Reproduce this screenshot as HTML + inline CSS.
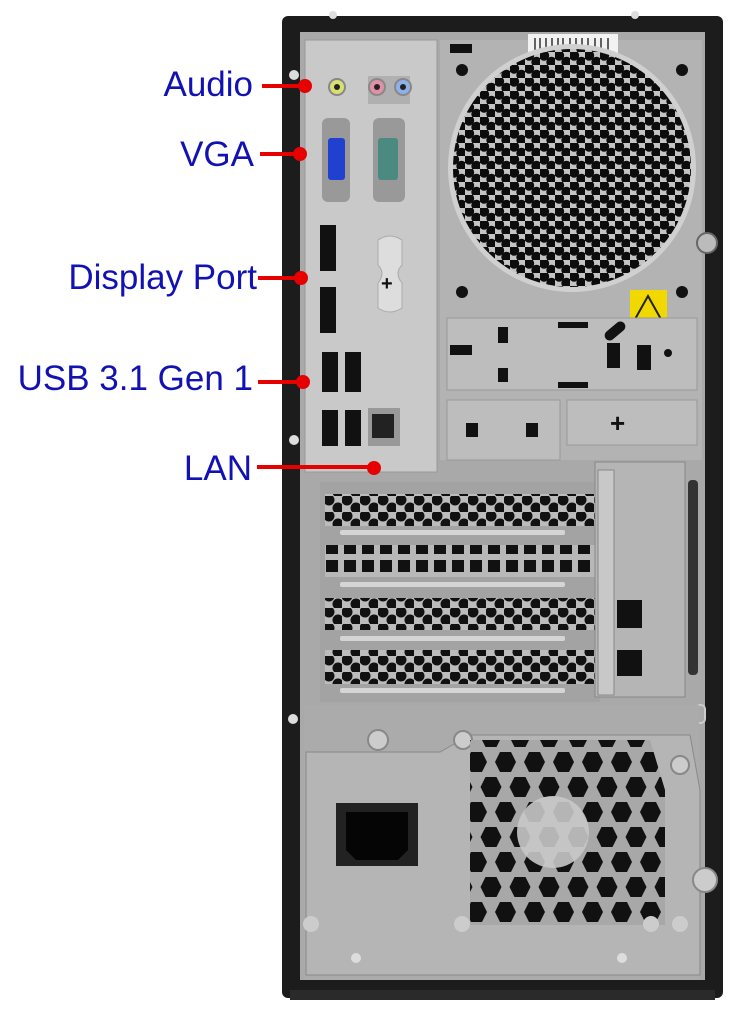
<!DOCTYPE html>
<html><head><meta charset="utf-8"><style>
html,body{margin:0;padding:0;background:#fff;width:743px;height:1024px;overflow:hidden}
svg{display:block}
text{font-family:"Liberation Sans",sans-serif}
</style></head><body>
<svg width="743" height="1024" viewBox="0 0 743 1024" xmlns="http://www.w3.org/2000/svg">
<defs>
<pattern id="hex" width="15" height="13" patternUnits="userSpaceOnUse">
<rect width="15" height="13" fill="#c4c4c4"/>
<circle cx="4" cy="3.5" r="5.2" fill="#0c0c0c"/>
<circle cx="11.5" cy="10" r="5.2" fill="#0c0c0c"/>
</pattern>
<pattern id="hex2" width="18" height="16" patternUnits="userSpaceOnUse">
<rect width="18" height="16" fill="#bcbcbc"/>
<circle cx="5" cy="4" r="5.5" fill="#111"/>
<circle cx="14" cy="12" r="5.5" fill="#111"/>
</pattern>
<pattern id="sq" width="18" height="18" patternUnits="userSpaceOnUse">
<rect width="18" height="18" fill="#b8b8b8"/>
<rect x="2" y="2" width="12" height="12" fill="#111"/>
</pattern>
<pattern id="psuhex" width="29" height="50" patternUnits="userSpaceOnUse">
<rect width="29" height="50" fill="#a8a8a8"/>
<polygon points="7,2 18,2 23,12 18,22 7,22 2,12" fill="#111"/>
<polygon points="21.5,27 32.5,27 37.5,37 32.5,47 21.5,47 16.5,37" fill="#111"/>
<polygon points="-7.5,27 3.5,27 8.5,37 3.5,47 -7.5,47 -12.5,37" fill="#111"/>
</pattern>
</defs>
<rect x="282" y="16" width="441" height="982" rx="6" fill="#1c1c1c"/>
<rect x="300" y="32" width="405" height="948" fill="#a9a9a9"/>
<rect x="290" y="990" width="425" height="10" fill="#2a2a2a"/>
<rect x="440" y="40" width="262" height="420" fill="#b3b3b3"/>
<rect x="528" y="34" width="90" height="26" fill="#f2f2f2"/>
<g stroke="#333" stroke-width="1.5">
<line x1="535" y1="38" x2="535" y2="55"/><line x1="540" y1="38" x2="540" y2="55"/><line x1="546" y1="38" x2="546" y2="55"/><line x1="552" y1="38" x2="552" y2="55"/><line x1="558" y1="38" x2="558" y2="55"/><line x1="563" y1="38" x2="563" y2="55"/><line x1="570" y1="38" x2="570" y2="55"/><line x1="576" y1="38" x2="576" y2="55"/><line x1="582" y1="38" x2="582" y2="55"/><line x1="588" y1="38" x2="588" y2="55"/><line x1="595" y1="38" x2="595" y2="55"/><line x1="601" y1="38" x2="601" y2="55"/><line x1="608" y1="38" x2="608" y2="55"/>
</g>
<rect x="450" y="44" width="22" height="9" fill="#111"/>
<circle cx="572" cy="168" r="124" fill="#d0d0d0"/>
<circle cx="572" cy="168" r="119" fill="url(#hex)"/>
<circle cx="462" cy="70" r="6" fill="#111"/><circle cx="682" cy="70" r="6" fill="#111"/>
<circle cx="462" cy="292" r="6" fill="#111"/><circle cx="682" cy="292" r="6" fill="#111"/>
<circle cx="707" cy="243" r="10" fill="#bbb" stroke="#666" stroke-width="2"/>
<rect x="630" y="290" width="37" height="36" fill="#f0d800"/>
<polygon points="648,296 662,321 634,321" fill="none" stroke="#222" stroke-width="2"/>
<rect x="447" y="318" width="250" height="72" fill="#bdbdbd" stroke="#999"/>
<rect x="450" y="345" width="22" height="10" fill="#111"/>
<rect x="498" y="327" width="10" height="16" fill="#111"/><rect x="498" y="368" width="10" height="14" fill="#111"/>
<rect x="558" y="322" width="30" height="6" fill="#111"/><rect x="558" y="382" width="30" height="6" fill="#111"/>
<rect x="603" y="326" width="24" height="10" rx="5" fill="#111" transform="rotate(-40 615 331)"/>
<rect x="607" y="343" width="13" height="25" fill="#111"/><rect x="637" y="345" width="14" height="25" fill="#111"/>
<circle cx="668" cy="353" r="4" fill="#111"/>
<rect x="447" y="400" width="113" height="60" fill="#bdbdbd" stroke="#999"/>
<rect x="466" y="423" width="12" height="14" fill="#111"/><rect x="526" y="423" width="12" height="14" fill="#111"/>
<rect x="567" y="400" width="130" height="45" fill="#bdbdbd" stroke="#999"/>
<text x="610" y="432" font-size="26" font-weight="bold" fill="#111">+</text>
<rect x="305" y="40" width="132" height="432" fill="#c9c9c9" stroke="#999"/>
<circle cx="294" cy="75" r="5" fill="#ddd"/><circle cx="294" cy="440" r="5" fill="#ddd"/>
<circle cx="333" cy="15" r="4" fill="#ddd"/><circle cx="635" cy="15" r="4" fill="#ddd"/>
<circle cx="337" cy="87" r="8" fill="#d8e070" stroke="#888" stroke-width="2"/><circle cx="337" cy="87" r="3" fill="#222"/>
<rect x="368" y="76" width="42" height="28" fill="#b0b0b0"/>
<circle cx="377" cy="87" r="8" fill="#e090a8" stroke="#888" stroke-width="2"/><circle cx="377" cy="87" r="3" fill="#222"/>
<circle cx="403" cy="87" r="8" fill="#8fb0e8" stroke="#888" stroke-width="2"/><circle cx="403" cy="87" r="3" fill="#222"/>
<rect x="322" y="118" width="28" height="84" rx="6" fill="#999"/>
<rect x="328" y="138" width="17" height="42" rx="3" fill="#2040d0"/>
<rect x="373" y="118" width="32" height="84" rx="6" fill="#999"/>
<rect x="378" y="138" width="20" height="42" rx="3" fill="#4a8a80"/>
<rect x="320" y="225" width="16" height="46" fill="#111"/>
<rect x="320" y="287" width="16" height="46" fill="#111"/>
<path d="M378,240 q12,-8 24,0 v25 q-8,8 0,18 v25 q-12,8 -24,0 v-25 q8,-10 0,-18z" fill="#ddd" stroke="#aaa"/>
<text x="381" y="290" font-size="20" font-weight="bold" fill="#111">+</text>
<rect x="322" y="352" width="16" height="40" fill="#111"/><rect x="345" y="352" width="16" height="40" fill="#111"/>
<rect x="322" y="410" width="16" height="36" fill="#111"/><rect x="345" y="410" width="16" height="36" fill="#111"/>
<rect x="368" y="408" width="32" height="38" fill="#999"/><rect x="372" y="414" width="22" height="24" fill="#222"/>
<rect x="320" y="482" width="280" height="220" fill="#a3a3a3"/>
<rect x="325" y="494" width="272" height="32" fill="url(#hex2)"/>
<rect x="325" y="545" width="272" height="32" fill="url(#sq)"/>
<rect x="325" y="598" width="272" height="32" fill="url(#hex2)"/>
<rect x="325" y="650" width="272" height="34" fill="url(#hex2)"/>
<g fill="#d5d5d5"><rect x="340" y="530" width="225" height="5" rx="2"/><rect x="340" y="582" width="225" height="5" rx="2"/><rect x="340" y="636" width="225" height="5" rx="2"/><rect x="340" y="688" width="225" height="5" rx="2"/></g>
<rect x="595" y="462" width="90" height="235" fill="#b5b5b5" stroke="#888"/>
<rect x="598" y="470" width="16" height="225" fill="#c8c8c8" stroke="#888"/>
<rect x="617" y="600" width="25" height="28" fill="#111"/><rect x="617" y="650" width="25" height="26" fill="#111"/>
<rect x="688" y="480" width="10" height="195" rx="4" fill="#333"/>
<circle cx="293" cy="719" r="5" fill="#ddd"/>
<rect x="696" y="705" width="9" height="18" rx="4" fill="none" stroke="#ccc" stroke-width="2"/>
<rect x="304" y="705" width="395" height="275" fill="#ababab"/>
<path d="M306,752 L440,752 L470,735 L690,735 L700,790 L700,975 L306,975z" fill="#b5b5b5" stroke="#888"/>
<circle cx="378" cy="740" r="10" fill="#ccc" stroke="#888" stroke-width="2"/>
<circle cx="463" cy="740" r="9" fill="#ccc" stroke="#888" stroke-width="2"/>
<circle cx="680" cy="765" r="9" fill="#ccc" stroke="#888" stroke-width="2"/>
<circle cx="705" cy="880" r="12" fill="#ccc" stroke="#888" stroke-width="2"/>
<path d="M470,740 L650,740 L665,790 L665,925 L470,925z" fill="url(#psuhex)"/>
<circle cx="553" cy="832" r="36" fill="#c8c8c8" opacity="0.9"/>
<rect x="336" y="803" width="82" height="63" fill="#222"/>
<path d="M346,812 L408,812 L408,850 L398,860 L356,860 L346,850z" fill="#050505"/>
<circle cx="311" cy="924" r="8" fill="#ccc"/><circle cx="462" cy="924" r="8" fill="#ccc"/><circle cx="651" cy="924" r="8" fill="#ccc"/><circle cx="680" cy="924" r="8" fill="#ccc"/>
<circle cx="356" cy="958" r="5" fill="#ddd"/><circle cx="622" cy="958" r="5" fill="#ddd"/>
<g fill="#1212b4" font-size="35" text-anchor="end">
<text x="253" y="96">Audio</text>
<text x="254" y="166">VGA</text>
<text x="257" y="289">Display Port</text>
<text x="253" y="390">USB 3.1 Gen 1</text>
<text x="252" y="480">LAN</text>
</g>
<g stroke="#e60000" stroke-width="4">
<line x1="262" y1="86" x2="303" y2="86"/>
<line x1="260" y1="154" x2="300" y2="154"/>
<line x1="258" y1="278" x2="301" y2="278"/>
<line x1="258" y1="382" x2="303" y2="382"/>
<line x1="257" y1="467" x2="374" y2="467"/>
</g>
<g fill="#e60000">
<circle cx="305" cy="86" r="7"/><circle cx="300" cy="154" r="7"/><circle cx="301" cy="278" r="7"/><circle cx="303" cy="382" r="7"/><circle cx="374" cy="468" r="7"/>
</g>
</svg>
</body></html>
